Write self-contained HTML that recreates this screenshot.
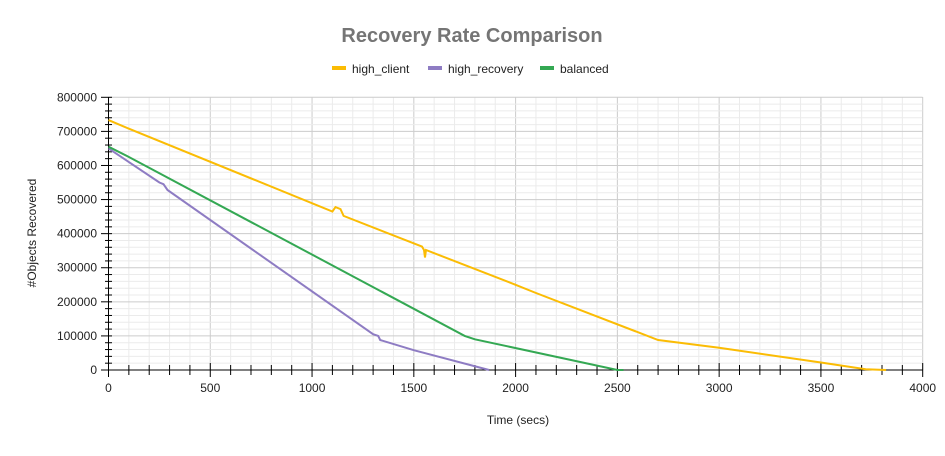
<!DOCTYPE html>
<html><head><meta charset="utf-8"><style>
body{margin:0;background:#fff;width:945px;height:451px;overflow:hidden;font-family:"Liberation Sans",Arial,sans-serif}
</style></head><body>
<svg id="s" width="945" height="451" xmlns="http://www.w3.org/2000/svg" font-family="Liberation Sans, Arial, sans-serif">
<text x="472" y="42" text-anchor="middle" font-size="20" font-weight="bold" fill="#757575">Recovery Rate Comparison</text>
<rect x="332" y="66" width="14" height="4" fill="#fbbc04"/><text x="352" y="73" font-size="12" fill="#222">high_client</text>
<rect x="428" y="66" width="14" height="4" fill="#8e7cc3"/><text x="448" y="73" font-size="12" fill="#222">high_recovery</text>
<rect x="540" y="66" width="14" height="4" fill="#34a853"/><text x="560" y="73" font-size="12" fill="#222">balanced</text>
<text x="518" y="424" text-anchor="middle" font-size="12" fill="#222">Time (secs)</text>
<text transform="translate(36,233) rotate(-90)" text-anchor="middle" font-size="12" fill="#222">#Objects Recovered</text>
<g id="g"></g>
</svg>
<script>
var g=document.getElementById('g'),h='';
function X(v){return 108.5+v*0.20355}
function Y(v){return 370-v*272.7/800000}
for(var i=0;i<=40;i++){var x=X(i*100);h+='<line x1="'+x+'" y1="97" x2="'+x+'" y2="370" stroke="'+(i%5?'#ebebeb':'#ccc')+'"/>';}
for(var j=0;j<=40;j++){var y=Y(j*20000);h+='<line x1="108.5" y1="'+y+'" x2="922.5" y2="'+y+'" stroke="'+(j%5?'#ebebeb':'#ccc')+'"/>';}
h+='<line x1="108.5" y1="97" x2="108.5" y2="377" stroke="#000"/><line x1="108.5" y1="370" x2="922.5" y2="370" stroke="#000"/>';
for(var i=0;i<=40;i++){var x=X(i*100);h+='<line x1="'+x+'" y1="'+(i%5?365:363)+'" x2="'+x+'" y2="'+(i%5?375:377)+'" stroke="#000"/>';if(i%5==0)h+='<text x="'+x+'" y="392" text-anchor="middle" font-size="12" fill="#222">'+(i*100)+'</text>';}
for(var j=0;j<=40;j++){var y=Y(j*20000);h+='<line x1="'+(j%5?105:101)+'" y1="'+y+'" x2="'+(j%5?112:112)+'" y2="'+y+'" stroke="#000"/>';if(j%5==0)h+='<text x="97" y="'+(y+4)+'" text-anchor="end" font-size="12" fill="#222">'+(j*20000)+'</text>';}
function P(d,c){var s='';d.forEach(function(p,k){s+=(k?'L':'M')+X(p[0]).toFixed(1)+' '+Y(p[1]).toFixed(1)});h+='<path d="'+s+'" fill="none" stroke="'+c+'" stroke-width="2"/>';}
P([[0,733000],[100,708000],[1100,465000],[1115,478000],[1140,472000],[1155,452000],[1540,362000],[1550,352000],[1555,330000],[1560,352000],[2000,250000],[2100,226000],[2700,88000],[3000,65000],[3500,22000],[3720,2000],[3820,0]],'#fbbc04');
P([[0,650000],[250,550000],[270,545000],[290,528000],[1300,105000],[1325,100000],[1335,88000],[1500,58000],[1870,0]],'#8e7cc3');
P([[0,655000],[100,625000],[1750,100000],[1800,90000],[2500,0],[2530,0]],'#34a853');
g.innerHTML=h;
</script>
</body></html>
